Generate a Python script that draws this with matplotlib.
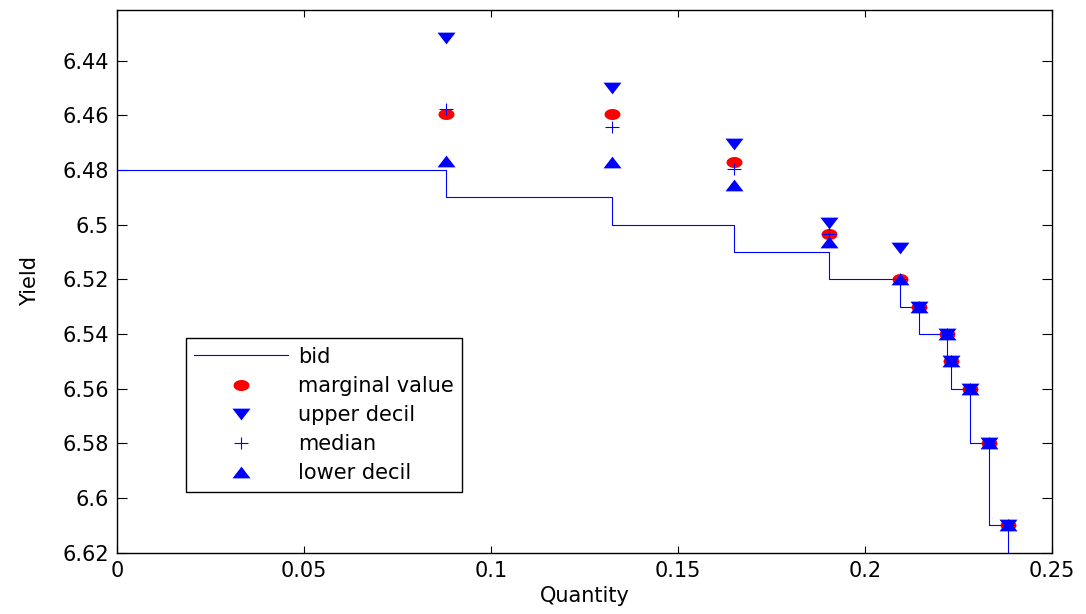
import numpy as np
import matplotlib
matplotlib.use('Agg')
import matplotlib.pyplot as plt
from matplotlib.path import Path

# bid curve: quantity where the yield level changes, and the yield levels
bid_q = [0.0, 0.0880, 0.1324, 0.1649, 0.1905, 0.2094, 0.2144, 0.2218, 0.2231, 0.2281, 0.2332, 0.2382]
bid_y = [6.48, 6.49, 6.50, 6.51, 6.52, 6.53, 6.54, 6.55, 6.56, 6.58, 6.61, 6.63]

# statistics at each step
quantity = [0.0880, 0.1324, 0.1649, 0.1905, 0.2094, 0.2144, 0.2218, 0.2231, 0.2281, 0.2332, 0.2382]
marginal = [6.4593, 6.4593, 6.4772, 6.5034, 6.52, 6.53, 6.54, 6.55, 6.56, 6.58, 6.61]
upper = [6.4317, 6.4500, 6.4704, 6.4994, 6.5085, 6.53, 6.54, 6.55, 6.56, 6.58, 6.61]
median = [6.4577, 6.4641, 6.4795, 6.5034, 6.52, 6.53, 6.54, 6.55, 6.56, 6.58, 6.61]
lower = [6.4766, 6.4769, 6.4854, 6.5063, 6.52, 6.53, 6.54, 6.55, 6.56, 6.58, 6.61]

x_ticks = [0, 0.05, 0.1, 0.15, 0.2, 0.25]
x_labels = ['0', '0.05', '0.1', '0.15', '0.2', '0.25']
y_ticks = [6.44, 6.46, 6.48, 6.5, 6.52, 6.54, 6.56, 6.58, 6.6, 6.62]
y_labels = ['6.44', '6.46', '6.48', '6.5', '6.52', '6.54', '6.56', '6.58', '6.6', '6.62']

# the original picture is stretched sideways, so the markers are wide
t = np.linspace(0, 2 * np.pi, 40)
ellipse = Path(np.column_stack([1.45 * np.cos(t), np.sin(t)]), closed=True)
tri_down = Path([(-1, 0.65), (1, 0.65), (0, -0.65), (-1, 0.65)], closed=True)
tri_up = Path([(-1, -0.65), (1, -0.65), (0, 0.65), (-1, -0.65)], closed=True)
plus = Path([(-1, 0), (1, 0), (0, -0.8), (0, 0.8)],
            [Path.MOVETO, Path.LINETO, Path.MOVETO, Path.LINETO])

plt.rcParams['font.family'] = ['DejaVu Sans']
fs = 15

fig = plt.figure(figsize=(10.86, 6.14), dpi=100)
ax = fig.add_axes([0.1077, 0.0998, 0.8610, 0.8839])

ax.step(bid_q, bid_y, where='post', color='blue', linewidth=0.8, label='bid')
ax.plot(quantity, marginal, linestyle='none', marker=ellipse, markersize=11.5,
        color='red', markeredgewidth=0, label='marginal value')
ax.plot(quantity, upper, linestyle='none', marker=tri_down, markersize=13,
        color='blue', markeredgewidth=0, label='upper decil')
ax.plot(quantity, median, linestyle='none', marker=plus, markersize=10,
        color='blue', markeredgewidth=0.8, label='median')
ax.plot(quantity, lower, linestyle='none', marker=tri_up, markersize=13,
        color='blue', markeredgewidth=0, label='lower decil')

ax.set_xlim(0, 0.25)
ax.set_ylim(6.62, 6.4214)
ax.set_xticks(x_ticks)
ax.set_xticklabels(x_labels)
ax.set_yticks(y_ticks)
ax.set_yticklabels(y_labels)

ax.tick_params(direction='in', top=True, right=True, labelsize=fs, width=0.8, pad=6)
ax.tick_params(axis='x', length=5)
ax.tick_params(axis='y', length=7)
for s in ax.spines.values():
    s.set_linewidth(1.0)

ax.set_xlabel('Quantity', fontsize=fs)
ax.set_ylabel('Yield', fontsize=fs)
ax.xaxis.set_label_coords(0.5, -0.061)
ax.yaxis.set_label_coords(-0.082, 0.5)

leg = ax.legend(loc='upper left', bbox_to_anchor=(0.0735, 0.395), borderaxespad=0,
                fontsize=fs, frameon=True, fancybox=False, framealpha=1,
                edgecolor='black', handlelength=4.5, handletextpad=0.5,
                labelspacing=0.44, borderpad=0.4)
leg.get_frame().set_linewidth(1.0)

fig.savefig('out.png', dpi=100)
